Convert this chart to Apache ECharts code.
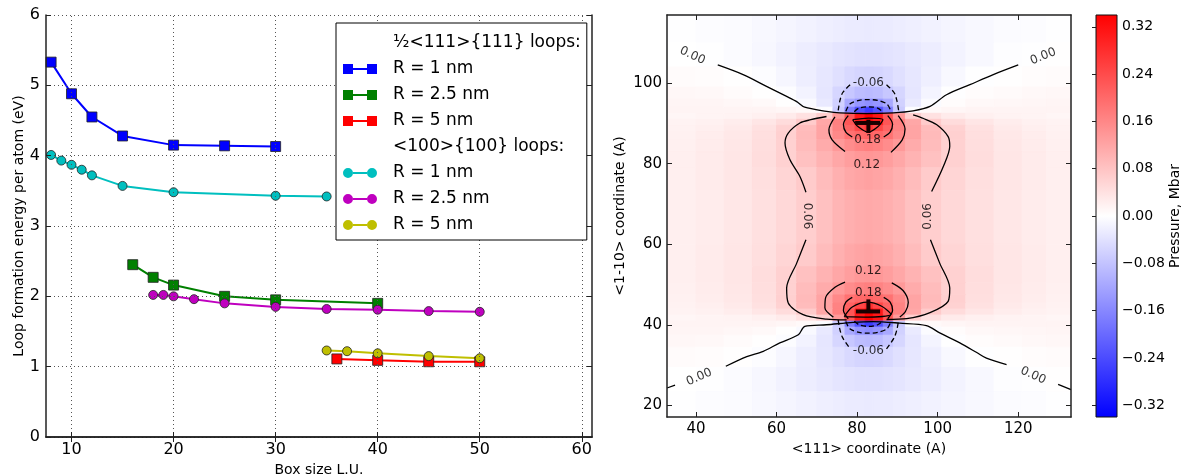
<!DOCTYPE html>
<html>
<head>
<meta charset="utf-8">
<title>Loop formation energy and pressure map</title>
<script src="https://cdn.jsdelivr.net/npm/echarts@6/dist/echarts.min.js"></script>
<style>
  html, body { margin: 0; padding: 0; background: #fff; }
  #main { width: 1184px; height: 476px; }
</style>
</head>
<body>
<div id="main"></div>
<script>
var FONT = 'DejaVu Sans'

// ---- left panel: formation energy per atom vs box size ----
var leftXTicks = [10, 20, 30, 40, 50, 60]

var box111R1 = [8, 10, 12, 15, 20, 25, 30]
var e111R1 = [5.33, 4.88, 4.55, 4.28, 4.15, 4.14, 4.13]
var box111R25 = [16, 18, 20, 25, 30, 40]
var e111R25 = [2.45, 2.27, 2.16, 2.00, 1.95, 1.90]
var box111R5 = [36, 40, 45, 50]
var e111R5 = [1.11, 1.09, 1.07, 1.07]
var box100R1 = [8, 9, 10, 11, 12, 15, 20, 30, 35]
var e100R1 = [4.01, 3.93, 3.87, 3.80, 3.72, 3.57, 3.48, 3.43, 3.42]
var box100R25 = [18, 19, 20, 22, 25, 30, 35, 40, 45, 50]
var e100R25 = [2.02, 2.02, 2.00, 1.96, 1.90, 1.85, 1.82, 1.81, 1.79, 1.78]
var box100R5 = [35, 37, 40, 45, 50]
var e100R5 = [1.23, 1.22, 1.19, 1.15, 1.12]

var header111 = '½<111>{111} loops:'
var header100 = '<100>{100} loops:'
var radiusLabels = ['R = 1 nm', 'R = 2.5 nm', 'R = 5 nm']

// ---- right panel: pressure map (Mbar) ----
var mapXTicks = [40, 60, 80, 100, 120]
var mapYTicks = [20, 40, 60, 80, 100]
var cbarTicks = [-0.32, -0.24, -0.16, -0.08, 0, 0.08, 0.16, 0.24, 0.32]
var cbarMin = -0.34
var cbarMax = 0.34

// cell edges, x left->right, y top->bottom
var xEdges = [32.8, 40, 47, 54, 60, 65, 70, 74, 77, 79.5, 82, 84, 86.5, 89, 92, 96, 101, 107, 114, 121, 127, 133.1]
var yEdges = [116.9, 110, 104, 99, 96, 94, 92.5, 91, 89.5, 88, 86, 83, 79, 73.4, 60, 54.4, 50.4, 47.4, 45.4, 43.9, 42.4, 40.9, 39.4, 37.4, 34.4, 29.4, 23.4, 17.1]

// pressure read per cell, one row per y band (top to bottom)
var pressure = [
  [-0.002,-0.004,-0.006,-0.009,-0.013,-0.017,-0.021,-0.024,-0.026,-0.027,-0.028,-0.027,-0.026,-0.024,-0.021,-0.017,-0.013,-0.009,-0.006,-0.004,-0.002],
  [0.000,-0.002,-0.006,-0.011,-0.017,-0.024,-0.030,-0.035,-0.038,-0.040,-0.040,-0.040,-0.038,-0.035,-0.030,-0.024,-0.016,-0.009,-0.003,-0.001,0.001],
  [0.006,0.004,0.001,-0.004,-0.012,-0.022,-0.032,-0.042,-0.051,-0.056,-0.058,-0.056,-0.051,-0.042,-0.032,-0.021,-0.010,-0.002,0.002,0.004,0.005],
  [0.010,0.009,0.006,0.002,-0.004,-0.016,-0.034,-0.055,-0.075,-0.088,-0.092,-0.088,-0.075,-0.055,-0.034,-0.015,-0.002,0.004,0.007,0.009,0.010],
  [0.013,0.013,0.011,0.008,0.002,-0.008,-0.030,-0.062,-0.115,-0.140,-0.150,-0.140,-0.115,-0.062,-0.028,-0.006,0.004,0.009,0.011,0.012,0.013],
  [0.014,0.015,0.015,0.014,0.012,0.008,-0.004,-0.070,-0.170,-0.230,-0.260,-0.230,-0.170,-0.070,-0.004,0.008,0.012,0.014,0.015,0.015,0.014],
  [0.012,0.014,0.016,0.020,0.027,0.040,0.066,0.135,0.225,0.310,0.340,0.310,0.225,0.135,0.066,0.040,0.027,0.020,0.016,0.014,0.012],
  [0.016,0.019,0.024,0.033,0.047,0.070,0.118,0.168,0.225,0.305,0.340,0.305,0.225,0.168,0.118,0.070,0.047,0.033,0.024,0.019,0.016],
  [0.018,0.022,0.028,0.040,0.060,0.090,0.122,0.165,0.208,0.245,0.275,0.245,0.208,0.165,0.122,0.090,0.060,0.040,0.028,0.022,0.018],
  [0.019,0.024,0.031,0.043,0.063,0.092,0.122,0.158,0.188,0.202,0.208,0.202,0.188,0.158,0.122,0.092,0.063,0.043,0.031,0.024,0.019],
  [0.020,0.025,0.032,0.044,0.062,0.090,0.112,0.136,0.154,0.166,0.171,0.166,0.154,0.136,0.112,0.090,0.062,0.044,0.032,0.025,0.020],
  [0.021,0.026,0.033,0.045,0.061,0.083,0.102,0.118,0.130,0.137,0.140,0.137,0.130,0.118,0.102,0.083,0.061,0.045,0.033,0.026,0.021],
  [0.021,0.026,0.033,0.043,0.056,0.070,0.090,0.106,0.116,0.122,0.125,0.122,0.116,0.106,0.090,0.070,0.056,0.043,0.033,0.026,0.021],
  [0.021,0.025,0.032,0.041,0.052,0.066,0.083,0.098,0.107,0.112,0.115,0.112,0.107,0.098,0.083,0.066,0.052,0.041,0.032,0.025,0.021],
  [0.021,0.026,0.033,0.043,0.056,0.070,0.090,0.106,0.116,0.122,0.125,0.122,0.116,0.106,0.090,0.070,0.056,0.043,0.033,0.026,0.021],
  [0.021,0.026,0.033,0.045,0.061,0.083,0.102,0.118,0.130,0.137,0.140,0.137,0.130,0.118,0.102,0.083,0.061,0.045,0.033,0.026,0.021],
  [0.020,0.025,0.032,0.044,0.062,0.090,0.112,0.136,0.154,0.166,0.171,0.166,0.154,0.136,0.112,0.090,0.062,0.044,0.032,0.025,0.020],
  [0.019,0.024,0.031,0.043,0.063,0.092,0.122,0.158,0.188,0.202,0.208,0.202,0.188,0.158,0.122,0.092,0.063,0.043,0.031,0.024,0.019],
  [0.018,0.022,0.028,0.040,0.060,0.090,0.122,0.165,0.208,0.245,0.275,0.245,0.208,0.165,0.122,0.090,0.060,0.040,0.028,0.022,0.018],
  [0.016,0.019,0.024,0.033,0.047,0.070,0.118,0.168,0.225,0.305,0.340,0.305,0.225,0.168,0.118,0.070,0.047,0.033,0.024,0.019,0.016],
  [0.012,0.014,0.016,0.020,0.027,0.040,0.066,0.135,0.225,0.310,0.340,0.310,0.225,0.135,0.066,0.040,0.027,0.020,0.016,0.014,0.012],
  [0.014,0.015,0.015,0.014,0.012,0.008,-0.004,-0.070,-0.170,-0.230,-0.260,-0.230,-0.170,-0.070,-0.004,0.008,0.012,0.014,0.015,0.015,0.014],
  [0.013,0.013,0.011,0.008,0.002,-0.008,-0.030,-0.062,-0.115,-0.140,-0.150,-0.140,-0.115,-0.062,-0.028,-0.006,0.004,0.009,0.011,0.012,0.013],
  [0.010,0.009,0.006,0.002,-0.004,-0.016,-0.034,-0.055,-0.075,-0.088,-0.092,-0.088,-0.075,-0.055,-0.034,-0.015,-0.002,0.004,0.007,0.009,0.010],
  [0.006,0.004,0.001,-0.004,-0.012,-0.022,-0.032,-0.042,-0.051,-0.056,-0.058,-0.056,-0.051,-0.042,-0.032,-0.021,-0.010,-0.002,0.002,0.004,0.005],
  [0.000,-0.002,-0.006,-0.011,-0.017,-0.024,-0.030,-0.035,-0.038,-0.040,-0.040,-0.040,-0.038,-0.035,-0.030,-0.024,-0.016,-0.009,-0.003,-0.001,0.001],
  [-0.002,-0.004,-0.006,-0.009,-0.013,-0.017,-0.021,-0.024,-0.026,-0.027,-0.028,-0.027,-0.026,-0.024,-0.021,-0.017,-0.013,-0.009,-0.006,-0.004,-0.002]
]

// contour traces [x, y] in map coordinates
var zeroUpper = [[45.4,104.5],[51.7,102.1],[57.5,99.2],[62.5,96.7],[65.0,95.4],[67.0,94.0],[72.4,93.0],[75.7,92.6],[82.4,92.4],[89.0,92.6],[93.9,93.1],[98.1,94.2],[102.2,97.1],[108.0,99.6],[113.8,102.1],[120.0,104.5]]
var zeroLower = [[47.4,29.7],[52.6,32.1],[56.7,33.4],[60.8,35.5],[65.4,37.5],[67.0,39.6],[72.4,40.0],[79.0,40.6],[84.0,40.8],[90.6,40.4],[97.2,39.8],[100.5,38.0],[105.5,35.5],[109.7,33.1],[112.1,31.7],[117.1,30.1]]
var zeroEdgeLeft = [[32.8,24.3],[34.8,25.0]]
var zeroEdgeRight = [[129.9,25.2],[133.1,23.9]]
var c06UpperLeft = [[72.4,91.7],[68.5,90.9],[65.8,90.1],[62.9,87.6],[62.1,85.1],[63.3,81.0],[65.8,76.8],[67.3,72.9]]
var c06UpperRight = [[93.9,92.1],[96.5,91.2],[99.7,89.7],[102.6,86.7],[103.0,84.3],[101.4,79.3],[98.5,73.1]]
var c06LowerLeft = [[67.3,61.1],[65.0,55.3],[62.5,49.1],[62.9,45.4],[66.6,42.5],[72.4,41.4],[77.4,41.2]]
var c06LowerRight = [[98.2,61.1],[100.5,55.3],[103.0,49.1],[102.6,45.8],[98.1,43.0],[92.3,41.5],[87.3,41.3]]
var c12UpperLeft = [[74.5,91.6],[73.0,88.4],[73.8,85.9],[77.0,83.0]]
var c12UpperRight = [[88.4,82.8],[91.2,85.9],[91.9,88.6],[90.2,91.9]]
var c12LowerLeft = [[74.1,41.9],[72.0,44.2],[72.2,46.8],[74.5,49.3],[77.0,50.6]]
var c12LowerRight = [[88.6,50.4],[91.4,48.5],[92.7,45.5],[92.0,43.3],[90.6,41.9]]
var c18UpperLeft = [[77.8,91.9],[76.6,89.8],[77.2,87.8],[78.8,86.6]]
var c18UpperRight = [[86.6,86.6],[88.2,87.8],[88.8,89.8],[87.6,91.9]]
var c18LowerLeft = [[77.8,41.5],[76.6,43.6],[77.2,45.6],[78.8,46.8]]
var c18LowerRight = [[86.6,46.8],[88.2,45.6],[88.8,43.6],[87.6,41.5]]
var c24Upper = [[78.9,90.9],[80.2,89.2],[82.8,87.8],[85.2,89.2],[86.4,90.9],[82.8,91.3],[78.9,90.9]]
var c24Lower = [[76.8,42.0],[78.8,44.4],[82.5,45.6],[86.1,44.6],[88.4,42.6],[82.8,41.9],[76.8,42.0]]
var m06UpperLeft = [[75.3,93.2],[75.7,95.5],[76.4,97.6],[78.3,99.6]]
var m06UpperRight = [[87.3,99.6],[89.2,97.6],[89.9,95.5],[90.3,93.2]]
var m06LowerLeft = [[75.3,41.2],[75.7,38.9],[76.4,36.8],[78.3,34.0]]
var m06LowerRight = [[87.3,34.0],[89.2,36.8],[89.9,38.9],[90.3,41.2]]
var m12Upper = [[77.2,93.0],[78.2,94.8],[80.5,95.7],[82.8,95.9],[85.1,95.7],[87.4,94.8],[88.4,93.0]]
var m12Lower = [[77.2,40.8],[78.2,39.0],[80.5,38.1],[82.8,37.9],[85.1,38.1],[87.4,39.0],[88.4,40.8]]
var m18Upper = [[79.3,92.9],[80.5,93.8],[82.8,94.1],[85.1,93.8],[86.3,92.9]]
var m18Lower = [[79.3,40.9],[80.5,40.0],[82.8,39.6],[85.1,40.0],[86.3,40.9]]

// dislocation cores (T marks)
var coreUpperBar = [[79.5,90.1],[85.7,90.1]]
var coreUpperStem = [[82.8,90.9],[82.8,87.6]]
var coreLowerBar = [[79.7,43.3],[85.7,43.3]]
var coreLowerStem = [[82.8,43.3],[82.8,46.3]]

var labelX = [39.1, 126.2, 40.8, 123.7, 67.5, 97.6, 82.4, 82.8, 82.6, 82.8, 82.8, 82.8]
var labelY = [106.8, 106.6, 27.0, 27.4, 67.0, 66.9, 79.8, 53.5, 85.8, 47.9, 100.0, 33.4]
var labelText = ['0.00', '0.00', '0.00', '0.00', '0.06', '0.06', '0.12', '0.12', '0.18', '0.18', '-0.06', '-0.06']
var labelAngles = [-25, 22, 24, -24, -90, 90, 0, 0, 0, 0, 0, 0]

var solidContours = [zeroUpper, zeroLower, zeroEdgeLeft, zeroEdgeRight,
  c06UpperLeft, c06UpperRight, c06LowerLeft, c06LowerRight,
  c12UpperLeft, c12UpperRight, c12LowerLeft, c12LowerRight,
  c18UpperLeft, c18UpperRight, c18LowerLeft, c18LowerRight, c24Upper, c24Lower]
var dashedContours = [m06UpperLeft, m06UpperRight, m06LowerLeft, m06LowerRight, m12Upper, m12Lower, m18Upper, m18Lower]
var coreMarks = [coreUpperBar, coreUpperStem, coreLowerBar, coreLowerStem]

var squareIcon = 'path://M0,0H10V10H0Z M10,4H24V6H10Z M24,0H34V10H24Z'
var circleIcon = 'path://M0,5A5,5 0 1,1 10,5A5,5 0 1,1 0,5Z M10,4H24V6H10Z M24,5A5,5 0 1,1 34,5A5,5 0 1,1 24,5Z'

function pairs(xs, ys) {
  return xs.map(function (x, i) { return [x, ys[i]] })
}

var energySets = [
  { key: 's111a', text: radiusLabels[0], color: '#0000ff', sym: 'rect', x: box111R1, y: e111R1 },
  { key: 's111b', text: radiusLabels[1], color: '#008000', sym: 'rect', x: box111R25, y: e111R25 },
  { key: 's111c', text: radiusLabels[2], color: '#ff0000', sym: 'rect', x: box111R5, y: e111R5 },
  { key: 's100a', text: radiusLabels[0], color: '#00bfbf', sym: 'circle', x: box100R1, y: e100R1 },
  { key: 's100b', text: radiusLabels[1], color: '#bf00bf', sym: 'circle', x: box100R25, y: e100R25 },
  { key: 's100c', text: radiusLabels[2], color: '#bfbf00', sym: 'circle', x: box100R5, y: e100R5 }
]
var displayNames = {}
energySets.forEach(function (s) { displayNames[s.key] = s.text })

var legendData = [{ name: header111, icon: 'none' }]
energySets.slice(0, 3).forEach(function (s) { legendData.push({ name: s.key, icon: squareIcon }) })
legendData.push({ name: header100, icon: 'none' })
energySets.slice(3).forEach(function (s) { legendData.push({ name: s.key, icon: circleIcon }) })

var series = []

// dotted vertical grid lines of the left panel
series.push({
  type: 'line', name: 'xgrid', xAxisIndex: 0, yAxisIndex: 0, data: [], z: 1, silent: true,
  markLine: {
    silent: true, symbol: 'none', label: { show: false }, animation: false,
    lineStyle: { type: [1, 3], color: '#555', width: 1 },
    data: leftXTicks.map(function (v) { return { xAxis: v } })
  }
})

energySets.forEach(function (s) {
  series.push({
    type: 'line', name: s.key, xAxisIndex: 0, yAxisIndex: 0,
    data: pairs(s.x, s.y),
    symbol: s.sym, symbolSize: s.sym === 'rect' ? 10 : 9, showAllSymbol: true,
    lineStyle: { color: s.color, width: 2 },
    itemStyle: { color: s.color, borderColor: '#222', borderWidth: 0.8 },
    z: 3
  })
})
series.push({ type: 'line', name: header111, xAxisIndex: 0, yAxisIndex: 0, data: [] })
series.push({ type: 'line', name: header100, xAxisIndex: 0, yAxisIndex: 0, data: [] })

// pressure cells
var heatCells = []
pressure.forEach(function (row, i) {
  row.forEach(function (p, j) {
    heatCells.push([xEdges[j], xEdges[j + 1], yEdges[i + 1], yEdges[i], p])
  })
})
var heatIndex = series.length
series.push({
  type: 'custom', name: 'pressure', xAxisIndex: 2, yAxisIndex: 2, clip: true, z: 1,
  encode: { x: [0, 1], y: [2, 3] },
  data: heatCells,
  renderItem: function (params, api) {
    var a = api.coord([api.value(0), api.value(3)])
    var b = api.coord([api.value(1), api.value(2)])
    var c = api.visual('color')
    return {
      type: 'rect',
      shape: { x: a[0], y: a[1], width: b[0] - a[0], height: b[1] - a[1] },
      style: { fill: c, stroke: c, lineWidth: 1 }
    }
  }
})

solidContours.forEach(function (seg) {
  series.push({
    type: 'line', xAxisIndex: 2, yAxisIndex: 2, data: seg, showSymbol: false, symbol: 'none',
    smooth: 0.3, lineStyle: { color: '#000', width: 1.3 }, z: 3, silent: true
  })
})
dashedContours.forEach(function (seg) {
  series.push({
    type: 'line', xAxisIndex: 2, yAxisIndex: 2, data: seg, showSymbol: false, symbol: 'none',
    smooth: 0.3, lineStyle: { color: '#000', width: 1.3, type: [5, 3] }, z: 3, silent: true
  })
})
coreMarks.forEach(function (seg) {
  series.push({
    type: 'line', xAxisIndex: 2, yAxisIndex: 2, data: seg, showSymbol: false, symbol: 'none',
    lineStyle: { color: '#1a0000', width: 4 }, z: 4, silent: true
  })
})
series.push({
  type: 'scatter', xAxisIndex: 2, yAxisIndex: 2, symbolSize: 0, z: 5, silent: true,
  data: labelX.map(function (x, i) {
    return {
      value: [x, labelY[i]], name: labelText[i],
      label: { rotate: labelAngles[i] }
    }
  }),
  label: { show: true, position: 'inside', formatter: '{b}', color: '#000', fontFamily: FONT, fontSize: 12 }
})

// colour bar
series.push({
  type: 'custom', name: 'cbar', xAxisIndex: 4, yAxisIndex: 4, z: 1,
  encode: { x: [0, 1], y: [2, 3] },
  data: [[0, 1, cbarMin, cbarMax]],
  renderItem: function (params, api) {
    var a = api.coord([api.value(0), api.value(3)])
    var b = api.coord([api.value(1), api.value(2)])
    return {
      type: 'rect',
      shape: { x: a[0], y: a[1], width: b[0] - a[0], height: b[1] - a[1] },
      style: {
        fill: new echarts.graphic.LinearGradient(0, 0, 0, 1, [
          { offset: 0, color: '#ff0000' }, { offset: 0.5, color: '#ffffff' }, { offset: 1, color: '#0000ff' }
        ]),
        stroke: '#111', lineWidth: 1
      }
    }
  }
})

var frame = { lineStyle: { color: '#222', width: 1.5 } }
var tickIn = function (vals) {
  var t = { show: true, inside: true, length: 5, lineStyle: { color: '#222', width: 1 } }
  if (vals) t.customValues = vals
  return t
}
var nameStyle = { fontFamily: FONT, fontSize: 14, color: '#000' }

var option = {
  animation: false,
  textStyle: { fontFamily: FONT },
  grid: [
    { left: 46, top: 15, width: 546, height: 422, containLabel: false, outerBoundsMode: 'none' },
    { left: 667, top: 15, width: 404, height: 402, containLabel: false, outerBoundsMode: 'none' },
    { left: 1096, top: 15, width: 21, height: 402, containLabel: false, outerBoundsMode: 'none' }
  ],
  legend: {
    left: 336, top: 23, orient: 'vertical',
    padding: [10, 6, 5, 7], itemGap: 6, itemWidth: 34, itemHeight: 10,
    backgroundColor: '#fff', borderColor: '#000', borderWidth: 1, borderRadius: 0,
    selectedMode: false, z: 10,
    itemStyle: { borderWidth: 0 },
    textStyle: { fontFamily: FONT, fontSize: 17, color: '#000', lineHeight: 20, padding: [0, 0, 0, 11] },
    data: legendData,
    formatter: function (name) { return displayNames[name] || name }
  },
  visualMap: {
    show: false, type: 'continuous', seriesIndex: heatIndex, dimension: 4,
    min: cbarMin, max: cbarMax,
    inRange: { color: ['#0000ff', '#ffffff', '#ff0000'] }
  },
  xAxis: [
    {
      gridIndex: 0, type: 'value', min: 7.5, max: 61, z: 6,
      axisLine: frame, axisTick: tickIn(leftXTicks), splitLine: { show: false },
      axisLabel: { customValues: leftXTicks, fontSize: 16, color: '#000', margin: 5 },
      name: 'Box size L.U.', nameLocation: 'middle', nameGap: 22, nameTextStyle: nameStyle
    },
    {
      gridIndex: 0, type: 'value', position: 'top', min: 7.5, max: 61, z: 6,
      axisLine: frame, axisTick: tickIn(leftXTicks), axisLabel: { show: false }, splitLine: { show: false }
    },
    {
      gridIndex: 1, type: 'value', min: 32.8, max: 133.1, z: 6,
      axisLine: frame, axisTick: tickIn(mapXTicks), splitLine: { show: false },
      axisLabel: { customValues: mapXTicks, fontSize: 15, color: '#000', margin: 5 },
      name: '<111> coordinate (A)', nameLocation: 'middle', nameGap: 25, nameTextStyle: nameStyle
    },
    {
      gridIndex: 1, type: 'value', position: 'top', min: 32.8, max: 133.1, z: 6,
      axisLine: frame, axisTick: tickIn(mapXTicks), axisLabel: { show: false }, splitLine: { show: false }
    },
    {
      gridIndex: 2, type: 'value', min: 0, max: 1, show: false
    }
  ],
  yAxis: [
    {
      gridIndex: 0, type: 'value', min: 0, max: 6, interval: 1, z: 6,
      axisLine: frame, axisTick: tickIn(),
      splitLine: { show: true, lineStyle: { type: [1, 3], color: '#555', width: 1 } },
      axisLabel: { fontSize: 16, color: '#000', margin: 6 },
      name: 'Loop formation energy per atom (eV)', nameLocation: 'middle', nameRotate: 90,
      nameGap: 20, nameTextStyle: nameStyle
    },
    {
      gridIndex: 0, type: 'value', position: 'right', min: 0, max: 6, interval: 1, z: 6,
      axisLine: frame, axisTick: tickIn(), axisLabel: { show: false }, splitLine: { show: false }
    },
    {
      gridIndex: 1, type: 'value', min: 17.1, max: 116.9, z: 6,
      axisLine: frame, axisTick: tickIn(mapYTicks), splitLine: { show: false },
      axisLabel: { customValues: mapYTicks, fontSize: 15, color: '#000', margin: 5 },
      name: '<1-10> coordinate (A)', nameLocation: 'middle', nameRotate: 90, nameGap: 40, nameTextStyle: nameStyle
    },
    {
      gridIndex: 1, type: 'value', position: 'right', min: 17.1, max: 116.9, z: 6,
      axisLine: frame, axisTick: tickIn(mapYTicks), axisLabel: { show: false }, splitLine: { show: false }
    },
    {
      gridIndex: 2, type: 'value', position: 'right', min: cbarMin, max: cbarMax, z: 6,
      axisLine: { show: false },
      axisTick: { show: true, inside: true, length: 4, customValues: cbarTicks, lineStyle: { color: '#222' } },
      splitLine: { show: false },
      axisLabel: {
        customValues: cbarTicks, fontSize: 14, color: '#000', margin: 5,
        formatter: function (v) { return v.toFixed(2).replace('-', '\u2212') }
      },
      name: 'Pressure, Mbar', nameLocation: 'middle', nameRotate: 90, nameGap: 50, nameTextStyle: nameStyle
    }
  ],
  series: series
}

var chart = echarts.init(document.getElementById('main'))
chart.setOption(option)
</script>
</body>
</html>
